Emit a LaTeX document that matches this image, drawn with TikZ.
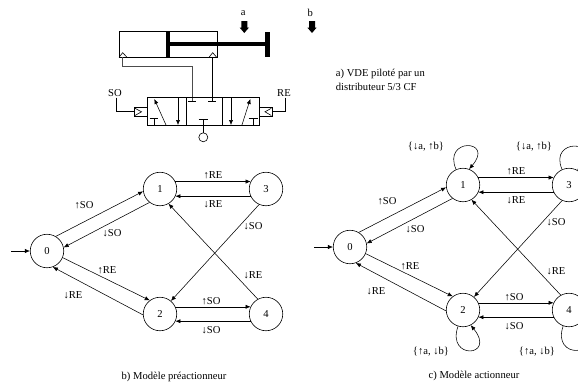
\documentclass[tikz,border=0pt]{standalone}
\usepackage{fontspec}
\setmainfont{Liberation Serif}
\usetikzlibrary{arrows.meta}
\tikzset{
  every node/.style={font=\fontsize{10.6}{12}\selectfont, inner sep=0pt},
  statenode/.style={draw, circle, minimum size=33.5pt, line width=0.6pt},
  edge/.style={line width=0.55pt, -{Latex[length=5pt,width=4.2pt]}},
  wire/.style={line width=0.6pt},
  pipe/.style={line width=0.6pt, draw=black!70},
  boldbar/.style={line width=4pt},
  lbl/.style={anchor=center},
  blockarrow/.style={fill=black, draw=none}
}
\newcommand\stategraph{%
  \node[statenode] (n0) at (47,251) {0};
  \node[statenode] (n1) at (160,189) {1};
  \node[statenode] (n3) at (266,189) {3};
  \node[statenode] (n2) at (160,314) {2};
  \node[statenode] (n4) at (266,314) {4};
  \coordinate (entry) at (11,251);
  \draw[edge] (entry) -- (n0.west);
  \draw[edge] (n0.59) -- (n1.188);
  \draw[edge] (n1.232) -- (n0.12);
  \draw[edge] (n0.-23) -- (n2.127);
  \draw[edge] (n2.183) -- (n0.-70);
  \draw[edge] (n1.26) -- (n3.154);
  \draw[edge] (n3.205) -- (n1.-25);
  \draw[edge] (n3.246) -- (n2.50);
  \draw[edge] (n4.119) -- (n1.-60);
  \draw[edge] (n2.25) -- (n4.155);
  \draw[edge] (n4.205) -- (n2.-25);
  \node[lbl] (l01) at (84,205) {↑SO};
  \node[lbl] (l10) at (112,233) {↓SO};
  \node[lbl] (l02) at (107,270) {↑RE};
  \node[lbl] (l20) at (73,295) {↓RE};
  \node[lbl] (l13) at (213,175.5) {↑RE};
  \node[lbl] (l31) at (213,204) {↓RE};
  \node[lbl] (l32) at (253,226) {↓SO};
  \node[lbl] (l41) at (253,275) {↓RE};
  \node[lbl] (l24) at (211,301) {↑SO};
  \node[lbl] (l42) at (211,330) {↓SO};
}
\begin{document}
\begin{tikzpicture}[x=1pt,y=-1pt]
\clip (0,0) rectangle (578,388);
% cylinder
\draw[wire] (119,31.7) rectangle (217.3,57.3);
\draw[boldbar] (167.7,31.7) -- (167.7,57.3);
\draw[boldbar] (167.7,44) -- (267.7,44);
\draw[line width=4.5pt] (267.7,32.3) -- (267.7,57.3);
\draw[wire] (119,57.3) -- (122.7,52.7) -- (127,57.3);
\draw[wire] (209,57.3) -- (212.7,52.7) -- (216.7,57.3);
% a, b
\node (ta) at (243.3,12.7) {a};
\node (tb) at (310.3,13) {b};
\fill[blockarrow] (241.3,21) -- (247.3,21) -- (247.3,27.5) -- (249,27.5) -- (244.3,33) -- (239.6,27.5) -- (241.3,27.5) -- cycle;
\fill[blockarrow] (309,21) -- (315,21) -- (315,27.5) -- (316.7,27.5) -- (312,33) -- (307.3,27.5) -- (309,27.5) -- cycle;
% pipes
\draw[pipe] (122.7,57.3) -- (122.7,66) -- (192.3,66) -- (192.3,101.7);
\draw[wire] (212.5,57.3) -- (212.5,101.7);
\draw[wire] (188.3,101.7) -- (196.3,101.7);
\draw[wire] (208.3,101.7) -- (216.3,101.7);
% valve
\draw[wire] (147.3,97.7) rectangle (259,125.7);
\draw[wire] (186,97.7) -- (186,125.7);
\draw[wire] (222.7,97.7) -- (222.7,125.7);
% left cell
\draw[edge] (166.3,125.7) -- (154.3,99);
\draw[edge] (178,97.7) -- (178,125);
\draw[wire] (149.7,118.3) -- (158,118.3) (153.8,118.3) -- (153.8,125.7);
% middle cell
\draw[wire] (198.7,119.3) -- (208,119.3) (203.3,119.3) -- (203.3,132.8);
\draw[wire] (203.3,137.3) circle (4.5);
% right cell
\draw[edge] (231,97.7) -- (231,125);
\draw[edge] (241.7,125.7) -- (250.3,99);
\draw[wire] (248.5,118.3) -- (258,118.3) (253.3,118.3) -- (253.3,125.7);
% pilots
\draw[wire] (134.3,107.7) rectangle (147.3,116);
\draw[line width=1pt] (134.3,107.7) -- (134.3,116);
\draw[wire] (135,108.3) -- (141.5,111.8) -- (135,115.5);
\draw[wire] (259,107.7) rectangle (272,116);
\draw[line width=1pt] (272,107.7) -- (272,116);
\draw[wire] (271.3,108.3) -- (265,111.8) -- (271.3,115.5);
\node (tso) at (115,93.3) {SO};
\node (tre) at (284,93.3) {RE};
\coordinate (soc) at (116.3,97.5);
\coordinate (rec) at (285.7,97.5);
\draw[wire] (soc) -- (116.3,111) -- (134.3,111);
\draw[wire] (rec) -- (285.7,111.7) -- (272,111.7);
% caption a
\node[anchor=west] (capa1) at (335.7,74) {a) VDE piloté par un};
\node[anchor=west] (capa2) at (335.7,87) {distributeur 5/3 CF};
% b
\begin{scope}[name prefix=b]
\stategraph
\end{scope}
\node (capb) at (174,377) {b) Modèle préactionneur};
% c
\begin{scope}[shift={(303,-4)}, name prefix=c]
\stategraph
\end{scope}
\node (capc) at (474,376) {c) Modèle actionneur};
% loops
\draw[edge] (cn1.114) .. controls +(-14,-32) and +(26,-30) .. (cn1.69);
\draw[edge] (cn3.114) .. controls +(-14,-32) and +(26,-30) .. (cn3.61);
\draw[edge] (cn2.-107) .. controls +(-12,34) and +(26,32) .. (cn2.-63);
\draw[edge] (cn4.-110) .. controls +(-12,34) and +(26,32) .. (cn4.-58);
\node (lp1) at (426,147) {\{↓a, ↑b\}};
\node (lp3) at (534,147) {\{↓a, ↑b\}};
\node (lp2) at (431,352) {\{↑a, ↓b\}};
\node (lp4) at (537,352) {\{↑a, ↓b\}};
\end{tikzpicture}
\end{document}
